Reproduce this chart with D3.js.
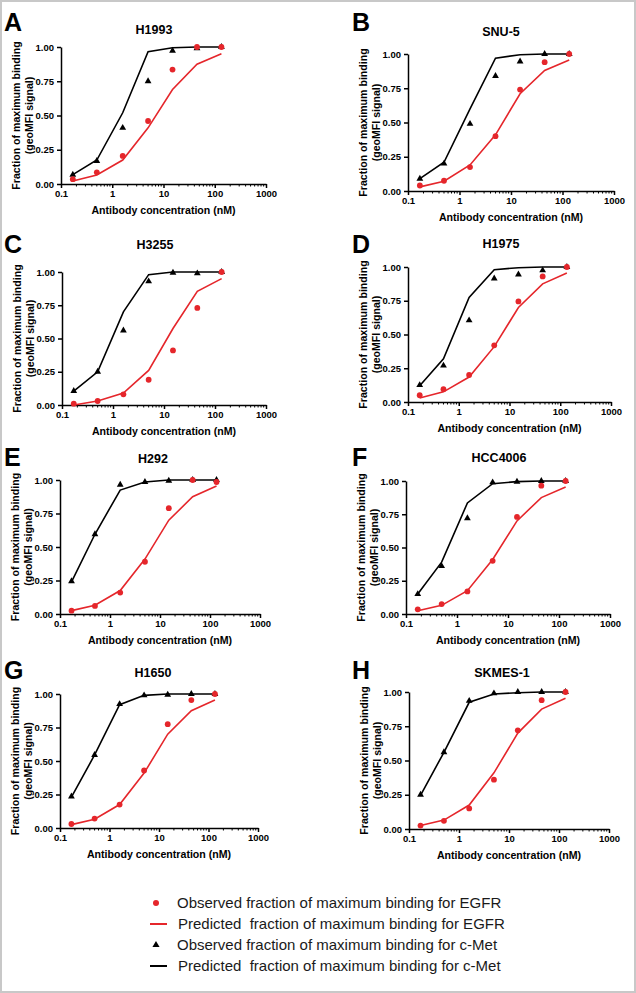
<!DOCTYPE html>
<html><head><meta charset="utf-8">
<script src="https://cdn.jsdelivr.net/npm/d3@7"></script>
<style>body{margin:0;background:#fff}svg{display:block;font-family:"Liberation Sans",Arial,sans-serif}</style>
</head><body><svg id="c" width="636" height="993"></svg>
<script>
const concentrations = [0.17, 0.5, 1.6, 5, 15, 45, 135];
const xTickLabels = [0.1, 1, 10, 100, 1000];
const yTickLabels = [0, 0.25, 0.5, 0.75, 1];
const panelLetters = ["A","B","C","D","E","F","G","H"];
const cellLines = ["H1993","SNU-5","H3255","H1975","H292","HCC4006","H1650","SKMES-1"];
const egfrObserved = [
  [0.035,0.085,0.205,0.46,0.835,1.0,1.0],
  [0.04,0.075,0.175,0.40,0.74,0.94,1.0],
  [0.01,0.03,0.08,0.19,0.41,0.73,1.0],
  [0.05,0.095,0.20,0.42,0.745,0.93,1.0],
  [0.025,0.06,0.16,0.39,0.79,1.0,0.985],
  [0.035,0.075,0.17,0.40,0.73,0.965,1.0],
  [0.03,0.07,0.175,0.43,0.775,0.955,1.0],
  [0.025,0.06,0.15,0.36,0.72,0.94,1.0]
];
const egfrPredicted = [
  [0.022,0.066,0.175,0.41,0.69,0.874,0.95],
  [0.03,0.071,0.19,0.41,0.71,0.88,0.956],
  [0.0,0.03,0.09,0.26,0.575,0.855,0.95],
  [0.03,0.075,0.185,0.41,0.70,0.875,0.955],
  [0.025,0.065,0.175,0.41,0.70,0.875,0.955],
  [0.025,0.065,0.175,0.41,0.70,0.875,0.955],
  [0.025,0.065,0.175,0.41,0.70,0.875,0.955],
  [0.025,0.065,0.175,0.41,0.70,0.875,0.955]
];
const cmetObserved = [
  [0.068,0.168,0.41,0.75,0.973,0.99,1.0],
  [0.09,0.20,0.49,0.84,0.945,1.0,1.0],
  [0.105,0.25,0.56,0.93,0.995,0.99,1.0],
  [0.125,0.27,0.605,0.915,0.945,0.975,1.0],
  [0.245,0.595,0.965,0.985,0.995,1.0,1.0],
  [0.15,0.36,0.72,0.99,0.995,1.0,1.0],
  [0.235,0.545,0.925,0.99,0.995,1.0,1.0],
  [0.25,0.56,0.935,0.99,1.0,1.0,1.0]
];
const cmetPredicted = [
  [0.068,0.175,0.52,0.966,0.995,1.0,1.0],
  [0.09,0.21,0.60,0.97,0.995,1.0,1.0],
  [0.105,0.25,0.70,0.98,1.0,1.0,1.0],
  [0.12,0.32,0.775,0.98,0.995,1.0,1.0],
  [0.24,0.595,0.925,0.985,1.0,1.0,1.0],
  [0.15,0.39,0.835,0.98,0.995,1.0,1.0],
  [0.23,0.545,0.92,0.99,1.0,1.0,1.0],
  [0.245,0.56,0.925,0.985,0.995,1.0,1.0]
];
const legendLabels = [
  "Observed fraction of maximum binding for EGFR",
  "Predicted  fraction of maximum binding for EGFR",
  "Observed fraction of maximum binding for c-Met",
  "Predicted  fraction of maximum binding for c-Met"
];

// layout (positions only)
const layout = [
  {x0:61,x1:266,top:47,bot:184,ty:29,ly:22},
  {x0:408,x1:614,top:54,bot:191,ty:31,ly:22},
  {x0:62,x1:266,top:272,bot:405,ty:244,ly:244},
  {x0:408,x1:611,top:267,bot:402,ty:243,ly:244},
  {x0:60,x1:260,top:480,bot:614,ty:458,ly:457},
  {x0:406,x1:610,top:481,bot:614,ty:457,ly:457},
  {x0:60,x1:258,top:694,bot:828,ty:672,ly:670},
  {x0:409,x1:609,top:692,bot:829,ty:672,ly:670}
];
const RED = "#e5262b";
const svg = d3.select("#c");
svg.append("rect").attr("x",1).attr("y",1).attr("width",634).attr("height",991)
  .attr("fill","#fff").attr("stroke","#c8c8c8").attr("stroke-width",2);

const minorTicks = [];
for (let e=-1;e<3;e++) for (let m=2;m<=9;m++) minorTicks.push(m*Math.pow(10,e));

panelLetters.forEach((letter,i)=>{
  const L = layout[i];
  const x = d3.scaleLog().domain([0.1,1000]).range([L.x0,L.x1]);
  const y = d3.scaleLinear().domain([0,1]).range([L.bot,L.top]);
  const g = svg.append("g");
  const left = i%2===0;
  // letter
  g.append("text").attr("x", left?4:352).attr("y",L.ly+9).attr("font-size",25).attr("font-weight","bold").text(letter);
  // title
  g.append("text").attr("x",L.x0+93).attr("y",L.ty+4.5).attr("text-anchor","middle").attr("font-size",12.5).attr("font-weight","bold").text(cellLines[i]);
  // y axis
  const ya = g.append("g").attr("transform",`translate(${L.x0},0)`)
    .call(d3.axisLeft(y).tickValues(yTickLabels).tickFormat(d3.format(".2f")).tickSize(4).tickSizeOuter(0));
  ya.selectAll("text").attr("font-size",9.5).attr("font-weight","bold").attr("fill","#000").attr("font-family","Liberation Sans, Arial");
  ya.selectAll("path,line").attr("stroke","#000").attr("stroke-width",1.5);
  // x axis major
  const xa = g.append("g").attr("transform",`translate(0,${L.bot})`)
    .call(d3.axisBottom(x).tickValues(xTickLabels).tickFormat(d=>String(d)).tickSize(4).tickSizeOuter(0));
  xa.selectAll("text").attr("font-size",9.5).attr("font-weight","bold").attr("fill","#000").attr("font-family","Liberation Sans, Arial").attr("dy","0.6em");
  xa.selectAll("path,line").attr("stroke","#000").attr("stroke-width",1.5);
  g.append("g").selectAll("line").data(minorTicks).join("line")
    .attr("x1",d=>x(d)).attr("x2",d=>x(d)).attr("y1",L.bot).attr("y2",L.bot+2.5)
    .attr("stroke","#000").attr("stroke-width",1);
  // axis titles
  g.append("text").attr("x",(L.x0+L.x1)/2).attr("y",L.bot+30).attr("text-anchor","middle")
    .attr("font-size",10.6).attr("font-weight","bold").text("Antibody concentration (nM)");
  const cy=(L.top+L.bot)/2;
  g.append("text").attr("transform",`translate(${L.x0-41},${cy}) rotate(-90)`).attr("text-anchor","middle")
    .attr("font-size",10.6).attr("font-weight","bold").text("Fraction of maximum binding");
  g.append("text").attr("transform",`translate(${L.x0-28},${cy}) rotate(-90)`).attr("text-anchor","middle")
    .attr("font-size",10.6).attr("font-weight","bold").text("(geoMFI signal)");
  // lines
  const line = d3.line().x((d,j)=>x(concentrations[j])).y(d=>y(d));
  g.append("path").datum(egfrPredicted[i]).attr("d",line).attr("fill","none").attr("stroke",RED).attr("stroke-width",1.6);
  g.append("path").datum(cmetPredicted[i]).attr("d",line).attr("fill","none").attr("stroke","#000").attr("stroke-width",1.6);
  // observed
  const tri = d3.symbol().type(d3.symbolTriangle).size(20);
  g.append("g").selectAll("path").data(cmetObserved[i]).join("path")
    .attr("transform",(d,j)=>`translate(${x(concentrations[j])},${y(d)})`).attr("d",tri).attr("fill","#000");
  g.append("g").selectAll("circle").data(egfrObserved[i]).join("circle")
    .attr("cx",(d,j)=>x(concentrations[j])).attr("cy",d=>y(d)).attr("r",2.9).attr("fill",RED);
});

// legend
const lg = svg.append("g");
const ly0 = 903, dy = 21;
legendLabels.forEach((t,k)=>{
  const yy = ly0 + k*dy;
  if (k===0) lg.append("circle").attr("cx",156).attr("cy",yy).attr("r",3).attr("fill",RED);
  if (k===1) lg.append("line").attr("x1",150).attr("x2",167).attr("y1",yy).attr("y2",yy).attr("stroke",RED).attr("stroke-width",2);
  if (k===2) lg.append("path").attr("transform",`translate(156,${yy})`).attr("d",d3.symbol().type(d3.symbolTriangle).size(22)()).attr("fill","#000");
  if (k===3) lg.append("line").attr("x1",150).attr("x2",167).attr("y1",yy).attr("y2",yy).attr("stroke","#000").attr("stroke-width",2);
  lg.append("text").attr("x",k%2===1?178:177).attr("y",yy+5).attr("font-size",15).attr("fill","#1a1a1a").style("white-space","pre").text(t);
});
</script></body></html>
